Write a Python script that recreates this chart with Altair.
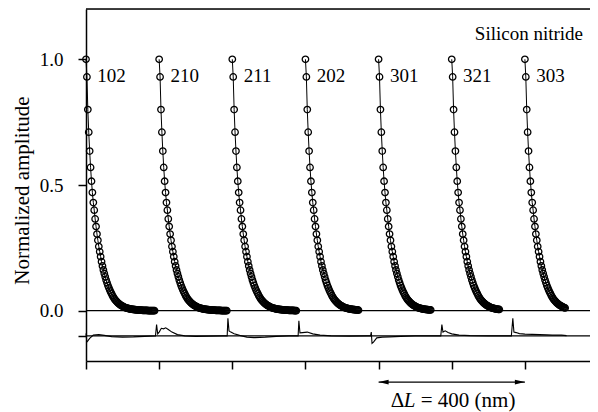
import altair as alt
import pandas as pd

# ---------------- data ----------------
curve_labels = ["102", "210", "211", "202", "301", "321", "303"]
curve_starts = [0, 200, 400, 600, 800, 1000, 1200]          # nm
curve_npts = [76, 75, 71, 59, 58, 53, 45]                    # points per curve

offsets = [0, 2.5, 5, 7.5, 10, 12.5, 15, 17.5, 20, 22.5,
           25, 27.5, 30, 32.5, 35, 37.5, 40, 42.5, 45, 47.5,
           50, 52.5, 55, 57.5, 60, 62.5, 65, 67.5, 70, 72.5,
           75, 77.5, 80, 82.5, 85, 87.5, 90, 92.5, 95, 97.5,
           100, 102.5, 105, 107.5, 110, 112.5, 115, 117.5, 120, 122.5,
           125, 127.5, 130, 132.5, 135, 137.5, 140, 142.5, 145, 147.5,
           150, 152.5, 155, 157.5, 160, 162.5, 165, 167.5, 170, 172.5,
           175, 177.5, 180, 182.5, 185, 187.5]
amplitude = [1.00, 0.93, 0.80, 0.71, 0.635, 0.57, 0.515, 0.47, 0.43, 0.40,
             0.365, 0.335, 0.305, 0.28, 0.255, 0.235, 0.215, 0.195, 0.178, 0.162,
             0.148, 0.135, 0.122, 0.111, 0.100, 0.091, 0.082, 0.074, 0.067, 0.060,
             0.054, 0.048, 0.043, 0.039, 0.035, 0.031, 0.028, 0.025, 0.022, 0.020,
             0.018, 0.016, 0.014, 0.012, 0.011, 0.010, 0.009, 0.008, 0.007, 0.006,
             0.006, 0.005, 0.005, 0.004, 0.004, 0.003, 0.003, 0.003, 0.002, 0.002,
             0.002, 0.002, 0.001, 0.001, 0.001, 0.001, 0.001, 0.001, 0.000, 0.000,
             0.000, 0.000, 0.000, 0.000, 0.000, 0.000]

resid_x = [0, 0.5, 2, 5, 10, 20, 35, 50, 70, 100, 130, 160, 190,
           193, 196, 200, 206, 212, 218, 225, 235, 250, 270, 300, 340, 375,
           386, 388, 391, 396, 405, 420, 440, 460, 490, 520, 555,
           580, 582, 585, 592, 605, 620, 640, 670, 720, 770,
           778, 780, 782, 786, 795, 810, 830, 860, 900, 960,
           970, 973, 976, 982, 990, 1000, 1020, 1050, 1100, 1150,
           1163, 1167, 1170, 1176, 1185, 1200, 1220, 1240, 1260, 1275, 1300, 1314]
resid_y = [-0.100, -0.090, -0.125, -0.120, -0.110, -0.097, -0.095, -0.098, -0.103, -0.105, -0.104, -0.102, -0.100,
           -0.055, -0.092, -0.085, -0.070, -0.072, -0.068, -0.075, -0.085, -0.095, -0.100, -0.102, -0.101, -0.100,
           -0.100, -0.030, -0.080, -0.085, -0.092, -0.098, -0.105, -0.107, -0.105, -0.102, -0.100,
           -0.100, -0.040, -0.088, -0.087, -0.085, -0.092, -0.097, -0.100, -0.101, -0.100,
           -0.100, -0.085, -0.130, -0.125, -0.108, -0.105, -0.104, -0.102, -0.100, -0.100,
           -0.100, -0.055, -0.085, -0.080, -0.087, -0.092, -0.097, -0.099, -0.100, -0.100,
           -0.100, -0.030, -0.085, -0.087, -0.091, -0.093, -0.094, -0.095, -0.096, -0.097, -0.097, -0.099]

hlines = [1.2, 0.0, -0.1]
x_ticks = [0, 200, 400, 600, 800, 1000, 1200]
y_ticks = [-0.1, 0.0, 0.5, 1.0]
dl_from, dl_to = 800, 1200

# ---------------- tables ----------------
rows = []
for lab, st, n in zip(curve_labels, curve_starts, curve_npts):
    for i in range(n):
        rows.append({"curve": lab, "x": st + offsets[i], "y": amplitude[i], "i": i})
curves = pd.DataFrame(rows)
resid = pd.DataFrame({"x": resid_x, "y": resid_y})
hl = pd.DataFrame({"y": hlines})
lab_df = pd.DataFrame({"x": [s + 31 for s in curve_starts], "y": [0.935] * 7, "t": curve_labels})

FONT = "Liberation Serif"
xs = alt.Scale(domain=[0, 1378], nice=False, zero=False)
ys = alt.Scale(domain=[-0.2, 1.2], nice=False, zero=False)
xaxis = alt.Axis(values=x_ticks, labels=False, title=None, grid=False, tickSize=8,
                 tickWidth=1.5, domainWidth=1.5, domainColor="black", tickColor="black")
yaxis = alt.Axis(values=y_ticks, grid=False, tickSize=8, tickWidth=1.5, domainWidth=1.5,
                 domainColor="black", tickColor="black", labelPadding=15,
                 labelFont=FONT, labelFontSize=19, labelColor="black",
                 labelExpr="datum.value < -0.05 ? '' : format(datum.value, '.1f')",
                 title="Normalized amplitude", titleFont=FONT, titleFontSize=21,
                 titleFontWeight="normal", titleColor="black", titleAngle=-90,
                 titleAlign="center", titleBaseline="middle", titleX=-64, titleY=181)


def X(f):
    return alt.X(f, type="quantitative", scale=xs, axis=xaxis)


def Y(f):
    return alt.Y(f, type="quantitative", scale=ys, axis=yaxis)


rules = alt.Chart(hl).mark_rule(color="black", strokeWidth=1.3).encode(y=Y("y"))

res_line = alt.Chart(resid).mark_line(color="black", strokeWidth=1.1).encode(x=X("x"), y=Y("y"))

lines = alt.Chart(curves).mark_line(color="black", strokeWidth=1).encode(
    x=X("x"), y=Y("y"), detail="curve:N", order="i:Q")
pts = alt.Chart(curves).mark_point(color="black", filled=False, size=42, strokeWidth=1.3,
                                   opacity=1).encode(x=X("x"), y=Y("y"), detail="curve:N")

labels = alt.Chart(lab_df).mark_text(font=FONT, fontSize=19, align="left", baseline="middle",
                                     color="black").encode(x=X("x"), y=Y("y"), text="t:N")

title_df = pd.DataFrame({"x": [1359], "y": [1.10], "t": ["Silicon nitride"]})
sn = alt.Chart(title_df).mark_text(font=FONT, fontSize=19, align="right", baseline="middle",
                                   color="black").encode(x=X("x"), y=Y("y"), text="t:N")

arr_df = pd.DataFrame({"x": [dl_from], "x2": [dl_to], "y": [-0.284]})
arr = alt.Chart(arr_df).mark_rule(color="black", strokeWidth=1.2).encode(
    x=X("x"), x2="x2", y=Y("y"))
head_df = pd.DataFrame({"x": [dl_from, dl_to], "y": [-0.284, -0.284],
                        "s": ["l", "r"]})
head_r = alt.Chart(head_df[head_df.s == "r"]).mark_point(
    shape="M0,0L-1,-0.24L-1,0.24Z", filled=True, color="black", size=400, opacity=1
).encode(x=X("x"), y=Y("y"))
head_l = alt.Chart(head_df[head_df.s == "l"]).mark_point(
    shape="M0,0L1,-0.24L1,0.24Z", filled=True, color="black", size=400, opacity=1
).encode(x=X("x"), y=Y("y"))

dl_df = pd.DataFrame({"x": [1000], "y": [-0.383]})
t1 = alt.Chart(dl_df).mark_text(text="Δ", font=FONT, fontSize=21, align="left",
                                baseline="alphabetic", dx=-61, color="black").encode(x=X("x"), y=Y("y"))
t2 = alt.Chart(dl_df).mark_text(text="L", font=FONT, fontSize=21, fontStyle="italic", align="left",
                                baseline="alphabetic", dx=-48, color="black").encode(x=X("x"), y=Y("y"))
t3 = alt.Chart(dl_df).mark_text(text="= 400 (nm)", font=FONT, fontSize=21, align="left",
                                baseline="alphabetic", dx=-31, color="black").encode(x=X("x"), y=Y("y"))

chart = alt.layer(rules, res_line, lines, pts, labels, sn, arr, head_l, head_r, t1, t2, t3).properties(
    width=504, height=352,
    autosize=alt.AutoSizeParams(type="none"),
    padding={"left": 78, "top": 1, "right": 0, "bottom": 51},
).configure_view(stroke=None).configure(background="white", font=FONT).configure_axis(
    labelFont=FONT, titleFont=FONT)

chart.save("out.html", embed_options={"renderer": "svg", "actions": False})
